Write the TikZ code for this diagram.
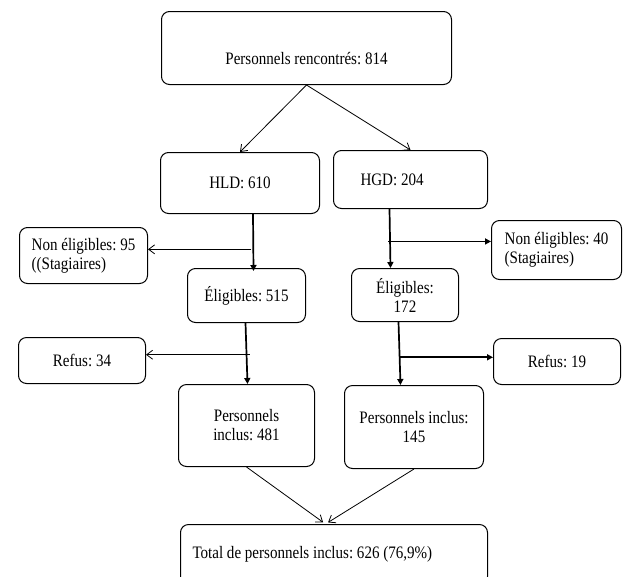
\documentclass[tikz,border=0pt]{standalone}
\usepackage{fontspec}
\setmainfont{Liberation Serif}[FakeStretch=0.86]
\usetikzlibrary{arrows.meta}
\newcommand\flowtextstyle{\fontsize{17.5}{19}\selectfont\frenchspacing}
\newcommand\flowlinewidth{1pt}
\tikzset{
  flowbox/.style={draw, line width=\flowlinewidth, rounded corners=8pt, anchor=north west,
    inner sep=0pt, align=center, font=\flowtextstyle},
  openarrow/.style={line width=0.8pt, -{Straight Barb[length=6pt, width=9pt]}},
  fillarrow/.style={line width=1.7pt, -{Triangle[length=6pt, width=6pt]}}
}
\begin{document}
\begin{tikzpicture}[x=1pt, y=-1pt]
  \useasboundingbox (0, 0) rectangle (623, 576) ;
  \clip (0, 0) rectangle (623, 576) ;
  \node[flowbox, minimum width=290, minimum height=73] (rencontres) at (161, 11) {\raisebox{-16pt}[0pt][0pt]{Personnels rencontrés: 814}} ;
  \node[flowbox, minimum width=159, minimum height=61] (hld) at (160, 152) {HLD: 610} ;
  \node[flowbox, minimum width=154, minimum height=58, text width=100, align=flush left] (hgd) at (333, 150) {HGD: 204} ;
  \node[flowbox, minimum width=128, minimum height=56, align=left] (nonhld) at (19, 227) {Non éligibles: 95\\((Stagiaires)} ;
  \node[flowbox, minimum width=130, minimum height=59, align=left] (nonhgd) at (491, 220) {Non éligibles: 40\\(Stagiaires)} ;
  \node[flowbox, minimum width=118, minimum height=54] (eligl) at (187, 268) {Éligibles: 515} ;
  \node[flowbox, minimum width=107, minimum height=53] (eligr) at (351, 268) {Éligibles:\\172} ;
  \node[flowbox, minimum width=127, minimum height=46] (refusl) at (18, 337) {Refus: 34} ;
  \node[flowbox, minimum width=127, minimum height=46] (refusr) at (493, 338) {Refus: 19} ;
  \node[flowbox, minimum width=136, minimum height=82] (inclusl) at (178, 384) {Personnels\\inclus: 481} ;
  \node[flowbox, minimum width=139, minimum height=83] (inclusr) at (344, 385) {Personnels inclus:\\145} ;
  \node[flowbox, minimum width=307, minimum height=60, text width=283, align=flush left] (total) at (180, 524) {Total de personnels inclus: 626 (76,9\%)} ;

  \draw[openarrow] (rencontres.south) -- (hld.north) ;
  \draw[openarrow] (rencontres.south) -- (hgd.north) ;

  \draw[fillarrow] ([xshift=13pt]hld.south) -- coordinate[pos=0.62] (splithld) ([xshift=7pt, yshift=-3pt]eligl.north) ;
  \draw[openarrow] ([xshift=-2pt]splithld) -- (splithld -| nonhld.east) ;
  \draw[fillarrow] ([xshift=-21pt]hgd.south) -- coordinate[pos=0.55] (splithgd) ([xshift=-14.5pt]eligr.north) ;
  \draw[fillarrow] ([xshift=-2pt]splithgd) -- (splithgd -| nonhgd.west) ;

  \draw[fillarrow] ([xshift=-1pt]eligl.south) -- coordinate[pos=0.52] (spliteligl) ([xshift=1pt]inclusl.north) ;
  \draw[openarrow] ([xshift=3pt]spliteligl) -- (spliteligl -| refusl.east) ;
  \draw[fillarrow] ([xshift=-6.5pt]eligr.south) -- coordinate[pos=0.56] (spliteligr) ([xshift=-13.5pt]inclusr.north) ;
  \draw[fillarrow] (spliteligr) -- (spliteligr -| refusr.west) ;

  \draw[openarrow, shorten >=3pt] (inclusl.south) -- ([xshift=-8.5pt]total.north) ;
  \draw[openarrow, shorten >=3pt] (inclusr.south) -- ([xshift=-8.5pt]total.north) ;
\end{tikzpicture}
\end{document}
